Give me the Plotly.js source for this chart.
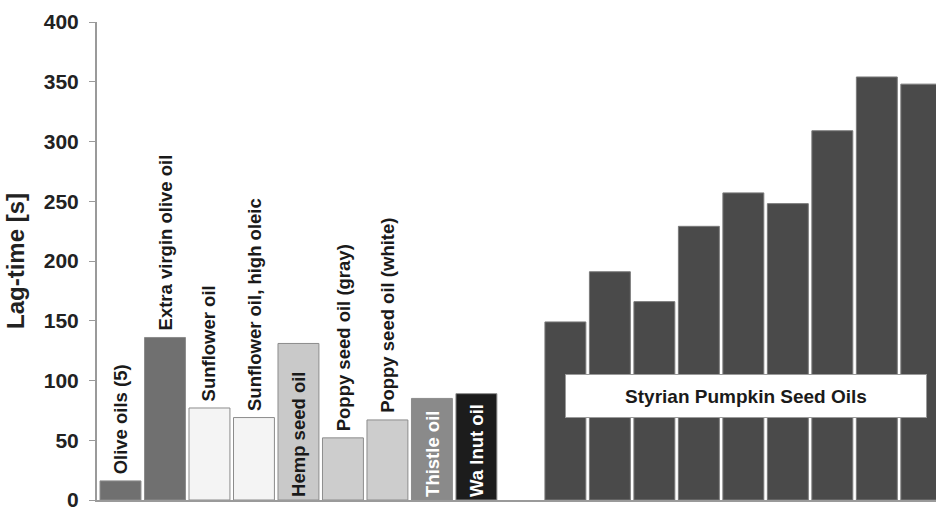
<!DOCTYPE html>
<html>
<head>
<meta charset="utf-8">
<script src="https://cdn.plot.ly/plotly-3.0.1.min.js"></script>
<style>html,body{margin:0;padding:0;background:#fff;}#chart{width:936px;height:508px;}</style>
</head>
<body>
<div id="chart"></div>
<script>
// ---- data ----
const oilNames = ["Olive oils (5)", "Extra virgin olive oil", "Sunflower oil", "Sunflower oil, high oleic",
  "Hemp seed oil", "Poppy seed oil (gray)", "Poppy seed oil (white)", "Thistle oil", "Wa lnut oil"];
const oilLagTime = [16, 136, 77, 69, 131, 52, 67, 85, 89];
const pumpkinNames = ["Pumpkin 1", "Pumpkin 2", "Pumpkin 3", "Pumpkin 4", "Pumpkin 5", "Pumpkin 6", "Pumpkin 7", "Pumpkin 8", "Pumpkin 9"];
const pumpkinLagTime = [149, 191, 166, 229, 257, 248, 309, 354, 348];
const pumpkinGroupLabel = "Styrian Pumpkin Seed Oils";
const yTickValues = [0, 50, 100, 150, 200, 250, 300, 350, 400];
const yAxisTitle = "Lag-time [s]";

// ---- styles ----
const oilFill = ["#707070", "#707070", "#f4f4f4", "#f4f4f4", "#c9c9c9", "#cdcdcd", "#cdcdcd", "#8a8a8a", "#1c1c1c"];
const labelInside = [false, false, false, false, true, false, false, true, true];
const labelColor = ["#1a1a1a", "#1a1a1a", "#1a1a1a", "#1a1a1a", "#1a1a1a", "#1a1a1a", "#1a1a1a", "#ffffff", "#ffffff"];
const pumpkinOffset = oilNames.length + 1;

const oilX = oilNames.map((_, i) => i);
const pumpkinX = pumpkinNames.map((_, i) => i + pumpkinOffset);

const traces = [
  {
    type: "bar", x: oilX, y: oilLagTime, hovertext: oilNames, textposition: "none", hoverinfo: "text+y",
    marker: {color: oilFill, line: {color: "#8c8c8c", width: 1}}
  },
  {
    type: "bar", x: pumpkinX, y: pumpkinLagTime, hovertext: pumpkinNames, textposition: "none", hoverinfo: "text+y",
    marker: {color: "#4a4a4a", line: {color: "#7a7a7a", width: 1}}
  }
];

const annotations = oilNames.map((name, i) => ({
  x: oilX[i], y: labelInside[i] ? 0 : oilLagTime[i], xref: "x", yref: "y",
  text: "<b>" + name + "</b>", showarrow: false, textangle: -90,
  xanchor: "center", yanchor: "bottom", yshift: labelInside[i] ? 1 : 5,
  font: {family: "Liberation Sans, Arial, sans-serif", size: 18.5, color: labelColor[i]}
}));
annotations.push({
  x: 14.05, y: 87, xref: "x", yref: "y", text: "<b>" + pumpkinGroupLabel + "</b>", showarrow: false,
  xanchor: "center", yanchor: "middle", width: 358, height: 40, align: "center", valign: "middle",
  bgcolor: "#ffffff", bordercolor: "#9a9a9a", borderwidth: 1, borderpad: 1,
  font: {family: "Liberation Sans, Arial, sans-serif", size: 19, color: "#1a1a1a"}
});

const layout = {
  width: 936, height: 508,
  margin: {l: 97, r: 0, t: 22, b: 8, pad: 0},
  paper_bgcolor: "#ffffff", plot_bgcolor: "#ffffff",
  showlegend: false, barmode: "overlay", bargap: 0.08,
  xaxis: {range: [-0.528, 18.33], showticklabels: false, ticks: "", showgrid: false, zeroline: false,
    showline: true, linecolor: "#9a9a9a", linewidth: 2, fixedrange: true},
  yaxis: {range: [0, 400], tickvals: yTickValues, ticks: "outside", ticklen: 6, tickcolor: "#9a9a9a", tickwidth: 1,
    showgrid: false, zeroline: false, showline: true, linecolor: "#9a9a9a", linewidth: 2,
    ticklabelstandoff: 6, ticklabeloverflow: "allow",
    tickfont: {family: "Liberation Sans, Arial, sans-serif", size: 21, color: "#222222", weight: "bold"},
    title: {text: yAxisTitle, standoff: 12, font: {family: "Liberation Sans, Arial, sans-serif", size: 24, color: "#222222", weight: "bold"}}},
  annotations: annotations
};

Plotly.newPlot("chart", traces, layout, {displayModeBar: false, staticPlot: true});
</script>
</body>
</html>
